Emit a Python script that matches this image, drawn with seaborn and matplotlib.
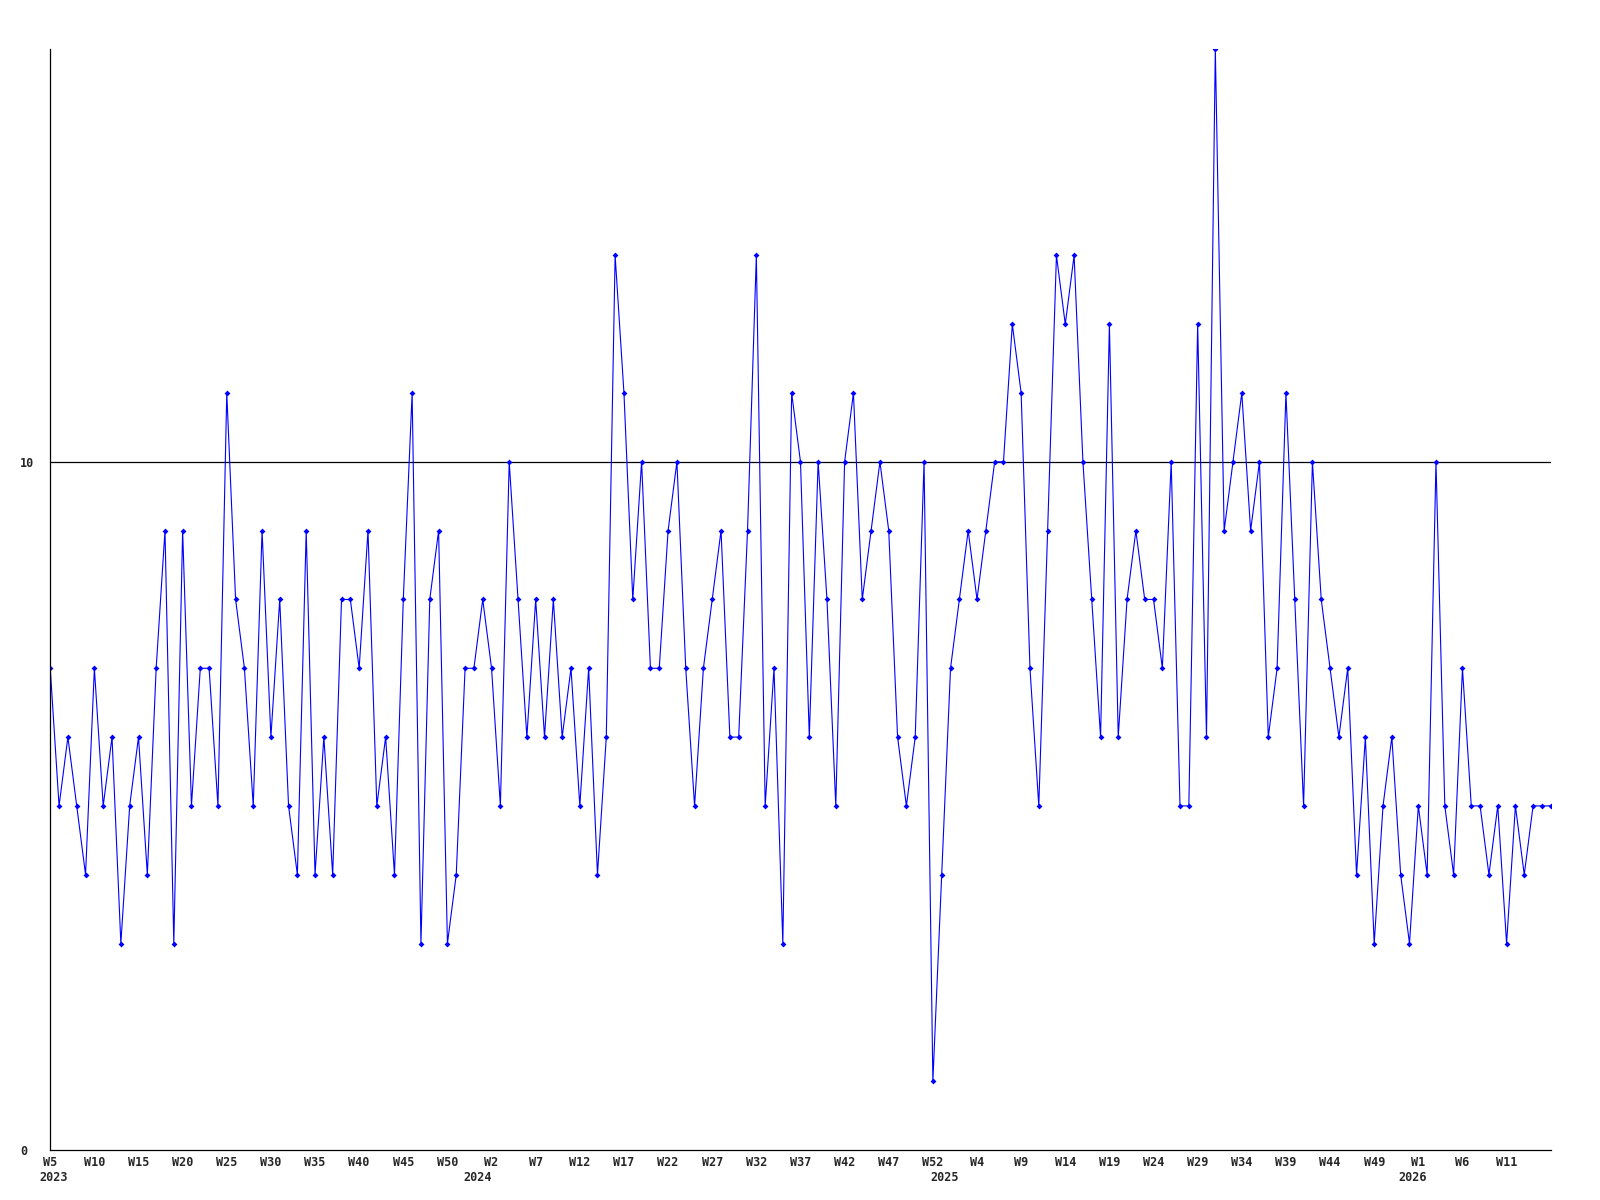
import pandas as pd
from matplotlib import pyplot as plt
import seaborn as sns

# weekly counts, W5 2023 .. W16 2026
valori = [7, 5, 6, 5, 4, 7, 5, 6, 3, 5, 6, 4, 7, 9, 3, 9, 5, 7, 7, 5, 11, 8,
          7, 5, 9, 6, 8, 5, 4, 9, 4, 6, 4, 8, 8, 7, 9, 5, 6, 4, 8, 11, 3, 8,
          9, 3, 4, 7, 7, 8, 7, 5, 10, 8, 6, 8, 6, 8, 6, 7, 5, 7, 4, 6, 13,
          11, 8, 10, 7, 7, 9, 10, 7, 5, 7, 8, 9, 6, 6, 9, 13, 5, 7, 3, 11, 10, 6,
          10, 8, 5, 10, 11, 8, 9, 10, 9, 6, 5, 6, 10, 1, 4, 7, 8, 9, 8, 9, 10,
          10, 12, 11, 7, 5, 9, 13, 12, 13, 10, 8, 6, 12, 6, 8, 9, 8, 8, 7, 10, 5, 5,
          12, 6, 16, 9, 10, 11, 9, 10, 6, 7, 11, 8, 5, 10, 8, 7, 6, 7, 4, 6, 3,
          5, 6, 4, 3, 5, 4, 10, 5, 4, 7, 5, 5, 4, 5, 3, 5, 4, 5, 5, 5]

anni = [2023, 2024, 2025, 2026]
settimane_per_anno = [list(range(5, 54)), list(range(1, 54)), list(range(1, 54)), list(range(1, 17))]

settimane = []
anno_col = []
for a, ss in zip(anni, settimane_per_anno):
    settimane += ss
    anno_col += [a] * len(ss)

df = pd.DataFrame({"idx": range(len(valori)), "valore": valori,
                   "settimana": settimane, "anno": anno_col})

sns.set_style("white")
plt.rcParams['font.family'] = ['DejaVu Sans Mono']

fig = plt.figure(figsize=(16, 12), dpi=100)
ax = fig.add_axes([0.0314, 0.0417, 0.9378, 0.9175])

sns.lineplot(data=df, x="idx", y="valore", ax=ax, color="#0000FF", linewidth=0.8,
             marker="D", markersize=3, markeredgewidth=0, markerfacecolor="#0000FF")

ax.set_xlim(0, len(valori) - 1)
ax.set_ylim(0, 16)
ax.axhline(10, color="black", linewidth=0.9, zorder=0)

# y ticks
ax.set_yticks([0, 10])
ax.set_yticklabels(["0", "10"], fontsize=8.5, fontweight="bold", ha="left")
ax.tick_params(axis="y", length=0, pad=21.6)

# x ticks every 5 weeks
tick_idx = list(range(0, len(valori) - 1, 5))
ax.set_xticks(tick_idx)
ax.set_xticklabels(["W%d" % df.loc[i, "settimana"] for i in tick_idx],
                   fontsize=8.5, fontweight="bold")
ax.tick_params(axis="x", length=0, pad=4)
for lab in ax.get_xticklabels():
    lab.set_x(lab.get_position()[0])

# year labels under first week of each year
for a in anni:
    i = df.index[df["anno"] == a][0]
    if i == 0:
        ax.annotate(str(a), xy=(i, 0), xycoords=("data", "axes fraction"),
                    xytext=(-8, -15), textcoords="offset points",
                    ha="left", va="top", fontsize=8.5, fontweight="bold")
    else:
        ax.annotate(str(a), xy=(i, 0), xycoords=("data", "axes fraction"),
                    xytext=(-4, -15), textcoords="offset points",
                    ha="center", va="top", fontsize=8.5, fontweight="bold")

ax.set_xlabel("")
ax.set_ylabel("")
for s in ["top", "right"]:
    ax.spines[s].set_visible(False)
for s in ["left", "bottom"]:
    ax.spines[s].set_color("black")
    ax.spines[s].set_linewidth(0.9)

fig.savefig("out.png", dpi=100)
